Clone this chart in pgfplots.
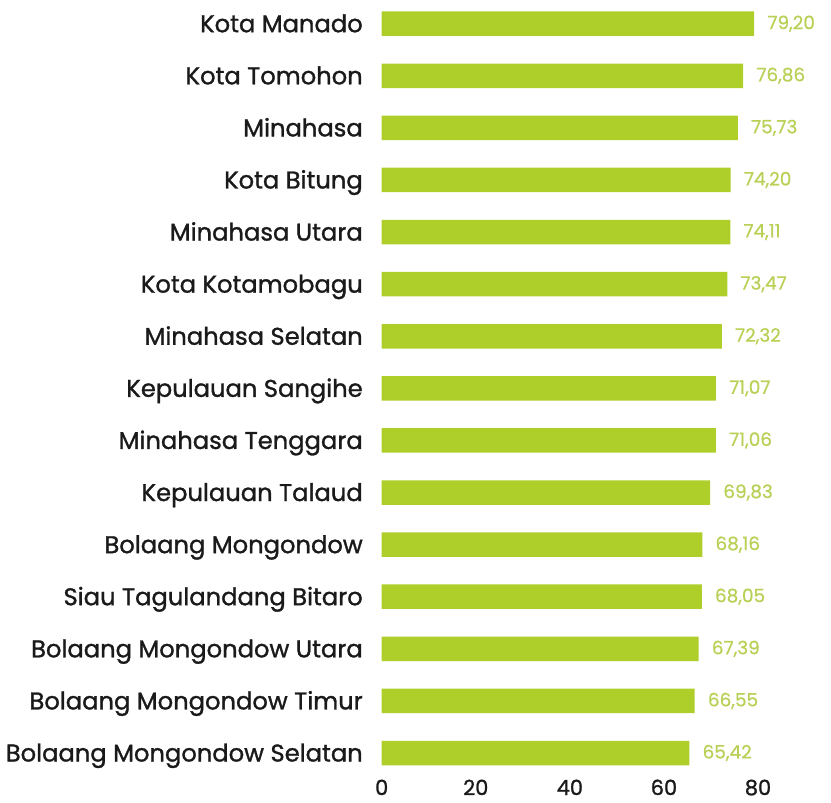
\documentclass[border=0pt]{standalone}
\usepackage{fontspec}
\setmainfont{Poppins}[FakeBold=0.6]
\newfontfamily\labfont{Poppins}[FakeBold=1.2]
\usepackage{pgfplots}
\pgfplotsset{compat=1.18}
\definecolor{barg}{HTML}{AECF2A}
\definecolor{valg}{HTML}{B8D055}
\definecolor{txt}{HTML}{1A1A1A}
\begin{document}
\begin{tikzpicture}
\begin{axis}[
  at={(381.7bp,23.95bp)}, anchor=south west,
  scale only axis,
  width=376.3bp, height=781.4bp,
  xmin=0, xmax=80,
  ymin=-0.5, ymax=14.5,
  y dir=reverse,
  xbar, bar width=24.5bp,
  axis line style={draw=none},
  tick style={draw=none},
  xtick={0,20,40,60,80},
  ytick={0,...,14},
  yticklabels={Kota Manado, Kota Tomohon, Minahasa, Kota Bitung, Minahasa Utara, Kota Kotamobagu, Minahasa Selatan, Kepulauan Sangihe, Minahasa Tenggara, Kepulauan Talaud, Bolaang Mongondow, Siau Tagulandang Bitaro, Bolaang Mongondow Utara, Bolaang Mongondow Timur, Bolaang Mongondow Selatan},
  yticklabel style={anchor=base east, inner sep=0pt, xshift=-14.5bp, yshift=-8.5bp, font=\labfont\fontsize{24.3}{29}\selectfont, text=txt},
  xticklabel style={anchor=base, inner sep=0pt, yshift=-16bp, font=\labfont\fontsize{21}{25}\selectfont, text=txt},
  /pgf/number format/assume math mode=true,
  nodes near coords={\pgfmathprintnumber[use comma, fixed, fixed zerofill, precision=2, assume math mode=true]{\pgfplotspointmeta}},
  nodes near coords style={anchor=west, inner sep=0pt, xshift=13bp, font=\fontsize{18.5}{22}\selectfont, text=valg},
  point meta=x,
  clip=false,
]
\addplot[fill=barg, draw=none] coordinates {
(79.20,0) (76.86,1) (75.73,2) (74.20,3) (74.11,4) (73.47,5) (72.32,6) (71.07,7) (71.06,8) (69.83,9) (68.16,10) (68.05,11) (67.39,12) (66.55,13) (65.42,14)
};
\end{axis}
\pgfresetboundingbox
\path (0,0) rectangle (831bp,803bp);
\end{tikzpicture}
\end{document}
